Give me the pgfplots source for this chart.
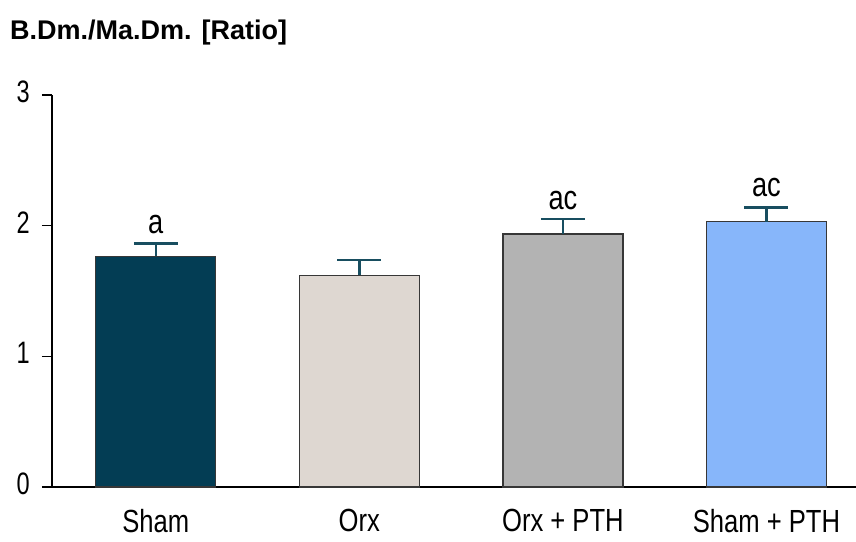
\documentclass[border=0pt]{standalone}
\usepackage{pgfplots}
\pgfplotsset{compat=1.18}
\usepackage{fontspec}
\setmainfont{Liberation Sans}
\newfontfamily\nar[FakeStretch=0.8]{Liberation Sans}
\newfontfamily\narnum[FakeStretch=0.76]{Liberation Sans}
\definecolor{cSham}{RGB}{3,61,84}
\definecolor{cOrx}{RGB}{222,215,209}
\definecolor{cOrxP}{RGB}{179,179,179}
\definecolor{cShamP}{RGB}{135,182,250}
\definecolor{cErr}{RGB}{24,78,96}
\definecolor{cEdge}{RGB}{55,55,55}
\begin{document}
\begin{tikzpicture}
\path[use as bounding box] (0,0) rectangle (856pt,541pt);
\begin{axis}[
  at={(52pt,54pt)}, anchor=south west,
  scale only axis, width=804pt, height=392pt,
  xmin=-0.51, xmax=3.44, ymin=0, ymax=3,
  axis x line*=bottom, axis y line*=left,
  axis line style={-, black, line width=1.6pt},
  x axis line style={line width=2.6pt},
  ytick={0,1,2,3},
  xtick={0,1,2,3},
  xticklabels={Sham, Orx, Orx + PTH, Sham + PTH},
  xtick style={draw=none},
  ytick style={line width=1.6pt, black},
  tick align=outside, major tick length=10pt,
  /pgf/number format/assume math mode=true,
  xticklabel style={font=\nar\fontsize{32}{34}\selectfont, inner sep=0pt, yshift=-12pt},
  yticklabel style={font=\narnum\fontsize{31}{34}\selectfont, inner sep=0pt, xshift=-12pt, yshift=3pt},
  ybar, bar width=120pt,
  clip=false,
  error bars/y dir=plus, error bars/y explicit,
  error bars/error bar style={line width=2.6pt, cErr},
  error bars/error mark options={rotate=90, mark size=22pt, line width=2.6pt, cErr},
]
\addplot[bar shift=0pt, fill=cSham, draw=cEdge, line width=1.3pt] coordinates {(0,1.765) +- (0,0.10)};
\addplot[bar shift=0pt, fill=cOrx, draw=cEdge, line width=1.3pt] coordinates {(1,1.62) +- (0,0.117)};
\addplot[bar shift=0pt, fill=cOrxP, draw=cEdge, line width=1.3pt] coordinates {(2,1.936) +- (0,0.114)};
\addplot[bar shift=0pt, fill=cShamP, draw=cEdge, line width=1.3pt] coordinates {(3,2.03) +- (0,0.11)};
\node[anchor=base, font=\nar\fontsize{34}{36}\selectfont, inner sep=0pt] at (axis cs:0,1.94) {a};
\node[anchor=base, font=\nar\fontsize{34}{36}\selectfont, inner sep=0pt] at (axis cs:2,2.12) {ac};
\node[anchor=base, font=\nar\fontsize{34}{36}\selectfont, inner sep=0pt] at (axis cs:3,2.22) {ac};
\end{axis}
\node[anchor=base west, inner sep=0pt, font=\bfseries\fontsize{27}{30}\selectfont] at (10pt,501pt) {B.Dm./Ma.Dm. [Ratio]};
\end{tikzpicture}
\end{document}
